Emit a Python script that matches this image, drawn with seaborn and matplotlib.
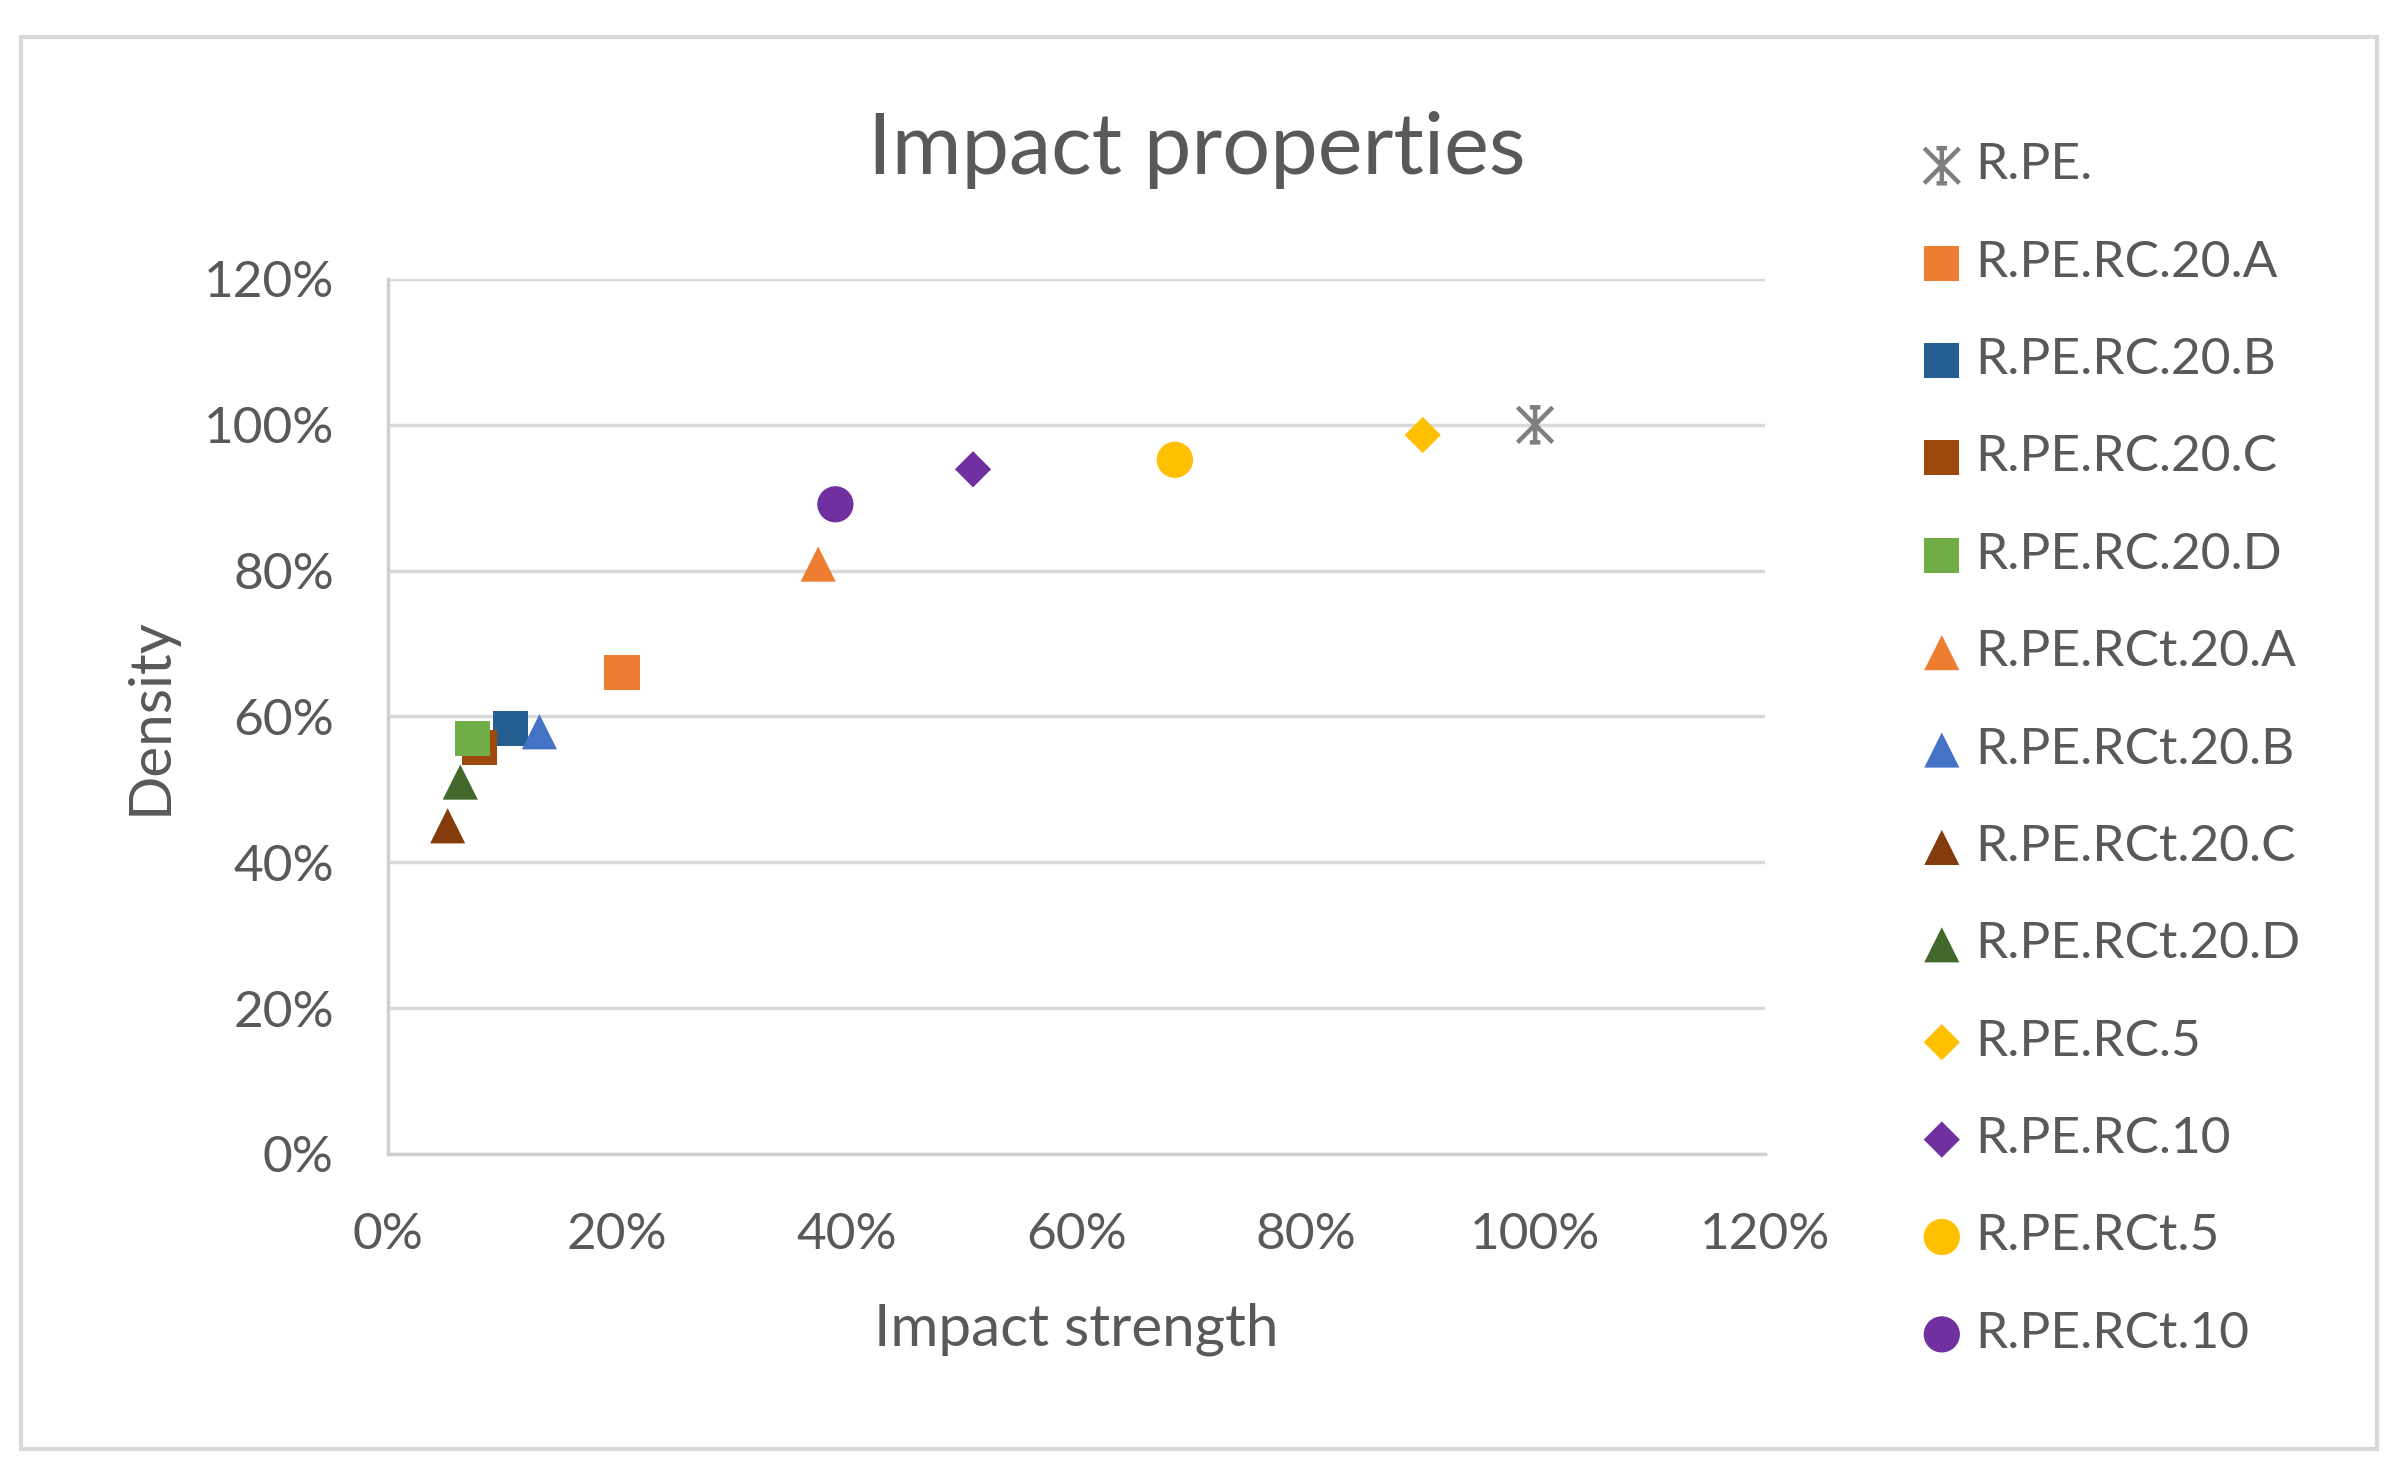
import seaborn as sns
import matplotlib.pyplot as plt
from matplotlib.ticker import PercentFormatter, MultipleLocator
from matplotlib.patches import Rectangle
from matplotlib.path import Path

names = ['R.PE.', 'R.PE.RC.20.A', 'R.PE.RC.20.B', 'R.PE.RC.20.C', 'R.PE.RC.20.D',
         'R.PE.RCt.20.A', 'R.PE.RCt.20.B', 'R.PE.RCt.20.C', 'R.PE.RCt.20.D',
         'R.PE.RC.5', 'R.PE.RC.10', 'R.PE.RCt.5', 'R.PE.RCt.10']
impact = [1.00, 0.204, 0.107, 0.080, 0.074, 0.375, 0.132, 0.052, 0.063,
          0.902, 0.510, 0.686, 0.390]
density = [1.00, 0.660, 0.583, 0.557, 0.570, 0.809, 0.579, 0.450, 0.510,
           0.986, 0.939, 0.952, 0.891]
colors = ['#7f7f7f', '#ED7D31', '#255E91', '#9E480E', '#70AD47',
          '#ED7D31', '#4472C4', '#843C0C', '#43682B',
          '#FFC000', '#7030A0', '#FFC000', '#7030A0']

# excel style "star": X plus a vertical bar with small caps
M, L = Path.MOVETO, Path.LINETO
star = Path([(-1, -1), (1, 1), (-1, 1), (1, -1), (0, -1), (0, 1),
             (-0.3, 1), (0.3, 1), (-0.3, -1), (0.3, -1)],
            [M, L, M, L, M, L, M, L, M, L])
markers = [star, 's', 's', 's', 's', '^', '^', '^', '^', 'D', 'D', 'o', 'o']
sizes = [640, 640, 640, 640, 640, 640, 640, 640, 640, 340, 340, 680, 680]

sns.set_style('white')
plt.rcParams['font.family'] = ['Lato', 'DejaVu Sans']
txt = '#595959'

fig = plt.figure(figsize=(24.04, 14.84), dpi=100)
ax = fig.add_axes([0.1614, 0.2224, 0.5726, 0.5896])

for n, x, y, c, m, s in zip(names, impact, density, colors, markers, sizes):
    if m is star:
        sns.scatterplot(x=[x], y=[y], marker=m, s=s, color=c, edgecolor=c,
                        facecolor='none', linewidth=3.2, label=n, ax=ax, zorder=3)
    else:
        sns.scatterplot(x=[x], y=[y], marker=m, s=s, color=c, edgecolor='none',
                        label=n, ax=ax, zorder=3)

ax.set_xlim(0, 1.2)
ax.set_ylim(0, 1.2)
ax.xaxis.set_major_locator(MultipleLocator(0.2))
ax.yaxis.set_major_locator(MultipleLocator(0.2))
ax.xaxis.set_major_formatter(PercentFormatter(1.0, decimals=0))
ax.yaxis.set_major_formatter(PercentFormatter(1.0, decimals=0))
ax.grid(axis='y', color='#D9D9D9', linewidth=2.5)
ax.grid(axis='x', visible=False)
for side in ['top', 'right']:
    ax.spines[side].set_visible(False)
for side in ['left', 'bottom']:
    ax.spines[side].set_color('#D0D0D0')
    ax.spines[side].set_linewidth(2.5)
ax.tick_params(axis='both', length=0, labelsize=37, labelcolor=txt)
ax.tick_params(axis='y', pad=39)
ax.tick_params(axis='x', pad=42)

ax.set_xlabel('Impact strength', fontsize=42, color=txt, labelpad=32)
ax.set_ylabel('Density', fontsize=42, color=txt, labelpad=19)
fig.text(0.498, 0.899, 'Impact properties', fontsize=61, color=txt,
         ha='center', va='center')

leg = ax.legend(loc='upper left', bbox_to_anchor=(0.7885, 0.9215),
                bbox_transform=fig.transFigure, frameon=False, fontsize=37,
                labelspacing=1.0, handletextpad=0.25, handlelength=0.8,
                borderpad=0)
for t in leg.get_texts():
    t.set_color(txt)

fig.patches.append(Rectangle((0.0087, 0.0236), 0.9800, 0.9515, transform=fig.transFigure,
                             fill=False, edgecolor='#D9D9D9', linewidth=3))

fig.savefig('out.png', dpi=100)
